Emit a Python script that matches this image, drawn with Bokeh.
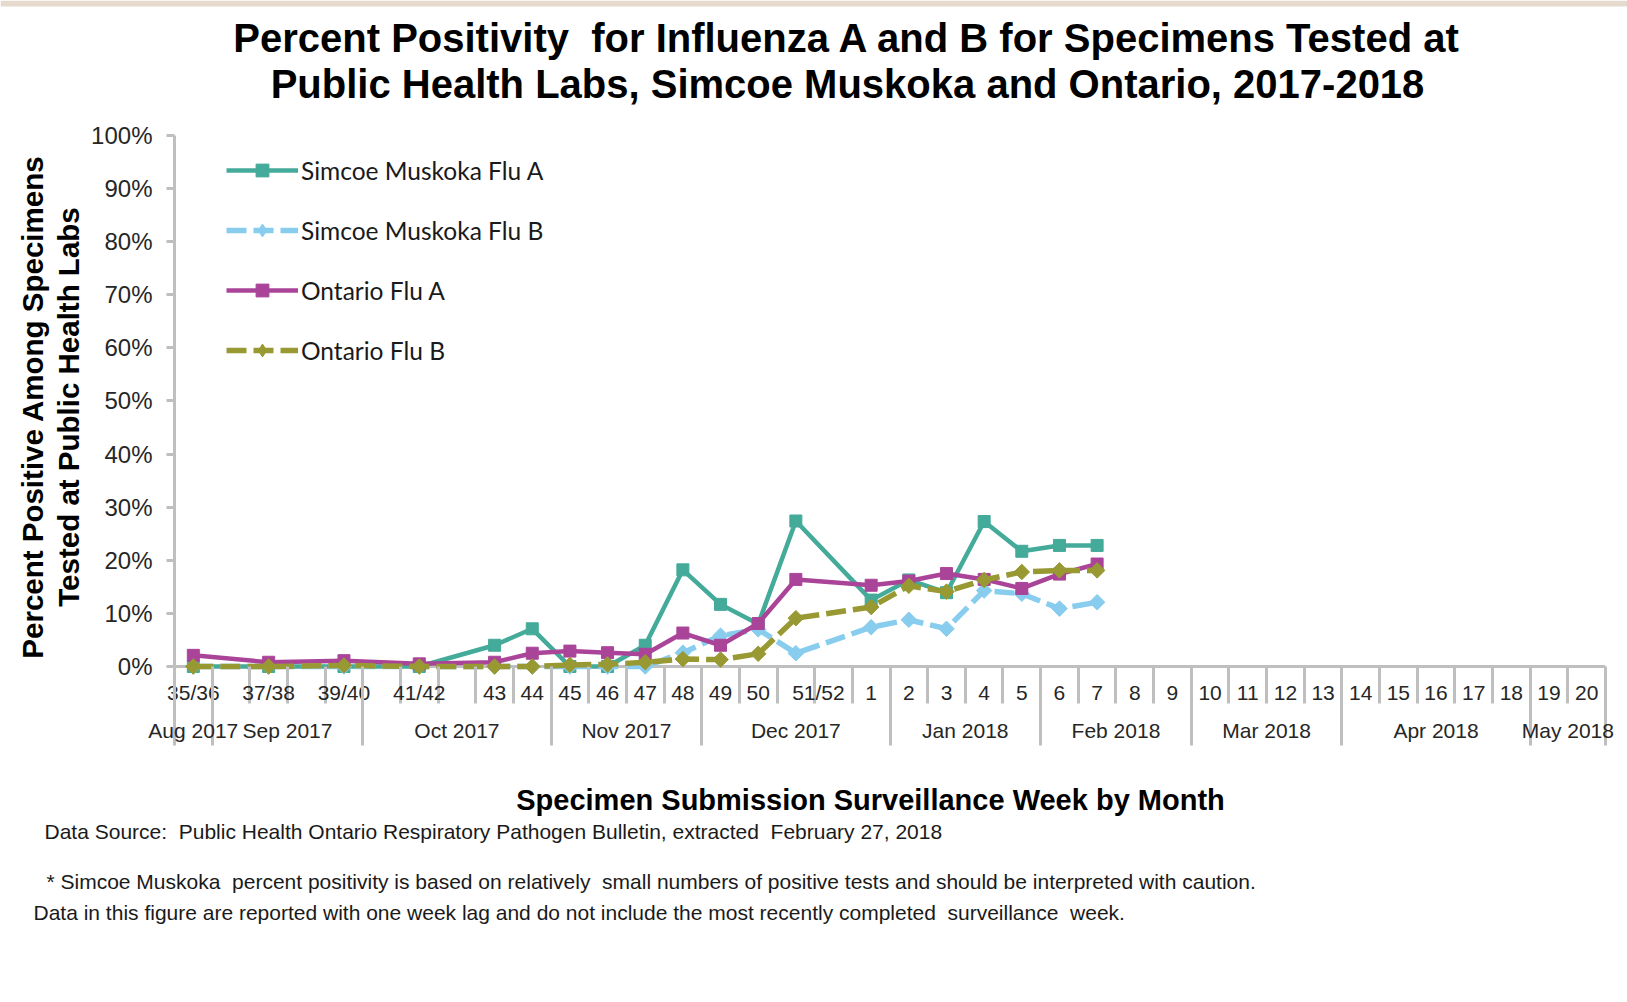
from math import pi
from bokeh.plotting import figure
from bokeh.layouts import column
from bokeh.models import (Range1d, FixedTicker, LinearAxis, PrintfTickFormatter,
                          Span, Legend, LegendItem, ColumnDataSource, BoxAnnotation)
from bokeh.core.properties import value
from bokeh.embed import file_html
from bokeh.resources import INLINE

# ---------------- data ----------------
week_labels = ["35/36", "37/38", "39/40", "41/42", "43", "44", "45", "46", "47", "48",
               "49", "50", "51/52", "1", "2", "3", "4", "5", "6", "7", "8", "9", "10",
               "11", "12", "13", "14", "15", "16", "17", "18", "19", "20"]
# season week number of the (first) week in each category (2018 weeks continue after 52)
week_numbers = [35, 37, 39, 41, 43, 44, 45, 46, 47, 48, 49, 50, 51, 53, 54, 55, 56, 57,
                58, 59, 60, 61, 62, 63, 64, 65, 66, 67, 68, 69, 70, 71, 72]

month_labels = ["Aug 2017", "Sep 2017", "Oct 2017", "Nov 2017", "Dec 2017",
                "Jan 2018", "Feb 2018", "Mar 2018", "Apr 2018", "May 2018"]
month_edges = [34.5, 35.5, 39.5, 44.5, 48.5, 53.5, 57.5, 61.5, 65.5, 70.5, 72.5]

simcoe_flu_a = [0, 0, 0, 0, 4.0, 7.1, 0, 0, 4.0, 18.2, 11.7, 8.0, 27.4,
                12.5, 16.3, 13.9, 27.3, 21.7, 22.8, 22.8]
simcoe_flu_b = [0, 0, 0, 0, 0, 0, 0, 0, 0, 2.6, 5.8, 7.0, 2.5,
                7.4, 8.8, 7.1, 14.3, 13.7, 10.9, 12.1]
ontario_flu_a = [2.1, 0.8, 1.1, 0.5, 0.8, 2.5, 2.9, 2.6, 2.3, 6.3, 4.0, 8.1, 16.4,
                 15.3, 16.1, 17.5, 16.4, 14.7, 17.4, 19.3]
ontario_flu_b = [0, 0, 0.2, 0, 0, 0, 0.3, 0.4, 0.8, 1.4, 1.3, 2.4, 9.1,
                 11.2, 15.2, 14.1, 16.3, 17.8, 18.1, 18.1]

series_names = ["Simcoe Muskoka Flu A", "Simcoe Muskoka Flu B", "Ontario Flu A", "Ontario Flu B"]
y_ticks = [0, 10, 20, 30, 40, 50, 60, 70, 80, 90, 100]

title_lines = ["Percent Positivity  for Influenza A and B for Specimens Tested at",
               "Public Health Labs, Simcoe Muskoka and Ontario, 2017-2018"]
y_title = "Percent Positive Among Specimens\nTested at Public Health Labs"
x_title = "Specimen Submission Surveillance Week by Month"
notes = ["Data Source:  Public Health Ontario Respiratory Pathogen Bulletin, extracted  February 27, 2018",
         "* Simcoe Muskoka  percent positivity is based on relatively  small numbers of positive tests and should be interpreted with caution.",
         "Data in this figure are reported with one week lag and do not include the most recently completed  surveillance  week."]


def keep_spaces(s):
    # SVG collapses repeated spaces; keep the wider gaps of the original
    return s.replace("  ", "\u00a0 ")


# ---------------- styling ----------------
W = 1627
GRAY = "#BFBFBF"
TXT = "#262626"
FONT = "Liberation Sans"
colors = ["#44AA99", "#88CCEE", "#AA4499", "#999933"]
dashes = ["solid", "20 7", "solid", "20 7"]
markers = ["square", "diamond", "square", "diamond"]


def text_fig(height):
    f = figure(width=W, height=height, x_range=Range1d(0, W), y_range=Range1d(height, 0),
               x_axis_type=None, y_axis_type=None, min_border=0, frame_align=False,
               output_backend="svg", toolbar_location=None,
               background_fill_color="white", border_fill_color="white")
    f.outline_line_color = None
    f.grid.visible = False
    return f


# ---------------- title block ----------------
top = text_fig(118)
top.add_layout(BoxAnnotation(bottom=0, top=6, fill_color="#E5DACD", fill_alpha=1,
                             line_color=None, level="underlay"))
top.text(x=[847, 847], y=[37, 83], text=[keep_spaces(t) for t in title_lines],
         text_font=value(FONT), text_font_size="40px", text_font_style="bold",
         text_align="center", text_baseline="middle", text_color="#000000")

# ---------------- main chart ----------------
p = figure(frame_width=1431, frame_height=543, frame_align=False,
           min_border_left=174, min_border_right=22, min_border_top=17, min_border_bottom=70,
           x_range=Range1d(34.5, 72.5), y_range=Range1d(-2.26, 100),
           output_backend="svg", toolbar_location=None,
           background_fill_color="white", border_fill_color="white")
p.outline_line_color = None
p.xgrid.visible = False
p.ygrid.visible = False

# x axis line at 0%
p.add_layout(Span(location=0, dimension="width", line_color=GRAY, line_width=3, level="underlay"))

items = []
for name, vals, col, dash, mk in zip(series_names,
                                     [simcoe_flu_a, simcoe_flu_b, ontario_flu_a, ontario_flu_b],
                                     colors, dashes, markers):
    src = ColumnDataSource(dict(x=week_numbers[:len(vals)], y=vals))
    r1 = p.line("x", "y", source=src, line_color=col,
                line_width=4.5 if dash == "solid" else 5.5, line_dash=dash)
    if mk == "square":
        r2 = p.scatter("x", "y", source=src, marker="square", size=12,
                       fill_color=col, line_color=col)
        items.append(LegendItem(label=name, renderers=[r1, r2]))
    else:
        r2 = p.scatter("x", "y", source=src, marker="square", angle=pi / 4, size=11,
                       fill_color=col, line_color=col)
        # the legend does not rotate markers: a tiny diamond glyph stands in for it there
        r3 = p.scatter("x", "y", source=src, marker="diamond", size=1,
                       fill_color=col, line_color=col)
        items.append(LegendItem(label=name, renderers=[r1, r3]))

legend = Legend(items=items, location=(52, 312), orientation="vertical",
                glyph_width=72, glyph_height=32, label_height=32, spacing=28,
                label_standoff=3, padding=0, margin=0,
                border_line_color=None, background_fill_alpha=0,
                label_text_font="Lato", label_text_font_size="24.5px", label_text_color="#1a1a1a")
p.add_layout(legend)

# y axis
yax = p.yaxis[0]
yax.ticker = FixedTicker(ticks=y_ticks)
yax.formatter = PrintfTickFormatter(format="%d%%")
yax.bounds = (0, 100)
yax.axis_line_color = GRAY
yax.axis_line_width = 3
yax.major_tick_line_color = GRAY
yax.major_tick_line_width = 3
yax.major_tick_out = 8
yax.major_tick_in = 0
yax.minor_tick_line_color = None
yax.major_label_standoff = 14
yax.major_label_text_font = FONT
yax.major_label_text_font_size = "24px"
yax.major_label_text_color = TXT
yax.axis_label = y_title
yax.axis_label_text_font = FONT
yax.axis_label_text_font_size = "29.5px"
yax.axis_label_text_font_style = "bold"
yax.axis_label_text_color = "#000000"
yax.axis_label_text_line_height = 1.1
yax.axis_label_standoff = 3

# week axis
week_label_pos = [w + 0.6 if lab == "51/52" else w for w, lab in zip(week_numbers, week_labels)]
week_edges = [month_edges[0] + i for i in range(int(month_edges[-1] - month_edges[0]) + 1)]
xax = p.xaxis[0]
xax.ticker = FixedTicker(ticks=week_label_pos, minor_ticks=week_edges)
xax.major_label_overrides = {pos: lab for pos, lab in zip(week_label_pos, week_labels)}
xax.axis_line_color = None
xax.major_tick_line_color = None
xax.major_tick_out = 0
xax.major_tick_in = 0
xax.minor_tick_line_color = GRAY
xax.minor_tick_line_width = 3
xax.minor_tick_in = 12
xax.minor_tick_out = 25
xax.major_label_standoff = -23
xax.major_label_text_font = FONT
xax.major_label_text_font_size = "21px"
xax.major_label_text_color = TXT

# month axis
month_centers = [(a + b) / 2 for a, b in zip(month_edges[:-1], month_edges[1:])]
max_ = LinearAxis(ticker=FixedTicker(ticks=month_centers, minor_ticks=month_edges),
                  major_label_overrides={c: m for c, m in zip(month_centers, month_labels)})
max_.axis_line_color = None
max_.major_tick_line_color = None
max_.major_tick_out = 0
max_.major_tick_in = 0
max_.minor_tick_line_color = GRAY
max_.minor_tick_line_width = 3
max_.minor_tick_in = 38
max_.minor_tick_out = 39
max_.major_label_standoff = -27
max_.major_label_text_font = FONT
max_.major_label_text_font_size = "21px"
max_.major_label_text_color = TXT
p.add_layout(max_, "below")

# ---------------- x title and notes ----------------
bottom = text_fig(240)
bottom.text(x=[870], y=[51], text=[x_title], text_font=value(FONT), text_font_size="29px",
            text_font_style="bold", text_align="center", text_baseline="middle",
            text_color="#000000")
bottom.text(x=[44, 46, 33], y=[83, 133, 164], text=[keep_spaces(n) for n in notes],
            text_font=value(FONT), text_font_size="21px", text_align="left",
            text_baseline="middle", text_color="#1a1a1a")

layout = column(top, p, bottom, spacing=0)
open("out.html", "w").write(file_html(layout, INLINE))
